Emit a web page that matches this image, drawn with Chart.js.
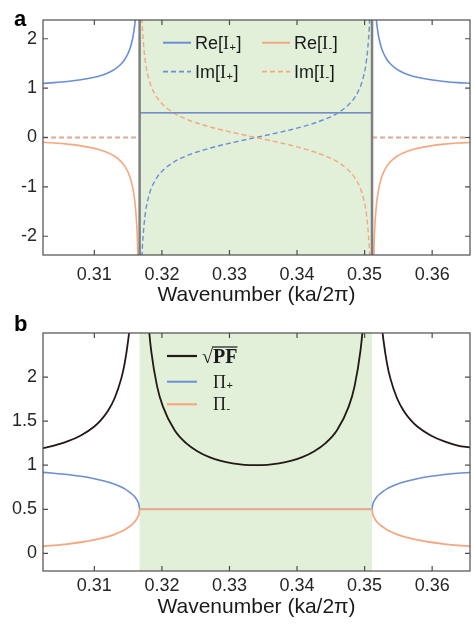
<!DOCTYPE html>
<html>
<head>
<meta charset="utf-8">
<script src="https://cdn.jsdelivr.net/npm/chart.js@4.4.1/dist/chart.umd.min.js"></script>
<style>
  body { margin: 0; background: #fff; width: 474px; height: 624px; position: relative; overflow: hidden; }
  .box { position: absolute; left: 0; width: 474px; }
  #boxA { top: 0; height: 310px; }
  #boxB { top: 310px; height: 314px; }
  .tag { position: absolute; left: 14px; font: bold 22px 'Liberation Sans', Arial, sans-serif; line-height: 22px; color: #000; }
</style>
</head>
<body>
<div class="box" id="boxA"><canvas id="chartA" width="474" height="310" style="width:474px;height:310px"></canvas></div>
<div class="box" id="boxB"><canvas id="chartB" width="474" height="314" style="width:474px;height:314px"></canvas></div>
<div class="tag" style="top:8px">a</div>
<div class="tag" style="top:313px">b</div>
<script>
// ---- data ----
const xTicks = [0.31, 0.32, 0.33, 0.34, 0.35, 0.36];
const yTicksA = [-2, -1, 0, 1, 2];
const yTicksB = [0, 0.5, 1, 1.5, 2];
const bandEdges = [0.3167, 0.3511];   // exceptional points

const labelsA = ['Re[I+]', 'Re[I-]', 'Im[I+]', 'Im[I-]'];
const labelsB = ['√PF', 'Π+', 'Π-'];

// outside the band (left / right)
const xOutL = [0.3024, 0.304, 0.306, 0.308, 0.310, 0.311, 0.312, 0.313, 0.314, 0.3145, 0.315, 0.3153, 0.3156, 0.3158, 0.3160, 0.3162, 0.3164, 0.3166];
const xOutR = [0.3512, 0.3514, 0.3516, 0.3518, 0.3520, 0.3522, 0.3525, 0.3528, 0.3533, 0.3538, 0.3548, 0.3558, 0.3568, 0.3578, 0.3598, 0.3618, 0.3638, 0.3656];
// inside the band
const xIn = [0.31672, 0.31679, 0.31687, 0.31704, 0.31722, 0.31756, 0.31808, 0.31842, 0.31928, 0.32014, 0.32186, 0.32358, 0.3253, 0.32702, 0.32874, 0.33046, 0.33218, 0.3339,
             0.33562, 0.33734, 0.33906, 0.34078, 0.3425, 0.34422, 0.34594, 0.34766, 0.34852, 0.34938, 0.34972, 0.35024, 0.35058, 0.35076, 0.35093, 0.35101, 0.35108];

// panel a
const reIpL = [1.097, 1.111, 1.135, 1.169, 1.220, 1.257, 1.308, 1.380, 1.494, 1.581, 1.706, 1.814, 1.964, 2.106, 2.305, 2.618, 3.215, 5.16];
const reImL = [-0.097, -0.111, -0.135, -0.169, -0.220, -0.257, -0.308, -0.380, -0.494, -0.581, -0.706, -0.814, -0.964, -1.106, -1.305, -1.618, -2.215, -4.16];
const reIpR = [5.16, 3.215, 2.618, 2.305, 2.106, 1.964, 1.814, 1.706, 1.581, 1.494, 1.380, 1.308, 1.257, 1.220, 1.169, 1.135, 1.111, 1.100];
const reImR = [-4.16, -2.215, -1.618, -1.305, -1.106, -0.964, -0.814, -0.706, -0.581, -0.494, -0.380, -0.308, -0.257, -0.220, -0.169, -0.135, -0.111, -0.100];
const reInner = [0.5, 0.5];
const imOuter = [0, 0];
const imIpIn = [-11.17, -4.981, -3.509, -2.462, -1.995, -1.521, -1.174, -1.032, -0.807, -0.667, -0.490, -0.375, -0.289, -0.218, -0.157, -0.102, -0.050, 0,
                0.050, 0.102, 0.157, 0.218, 0.289, 0.375, 0.490, 0.667, 0.807, 1.032, 1.174, 1.521, 1.995, 2.462, 3.509, 4.981, 11.17];
const imImIn = [11.17, 4.981, 3.509, 2.462, 1.995, 1.521, 1.174, 1.032, 0.807, 0.667, 0.490, 0.375, 0.289, 0.218, 0.157, 0.102, 0.050, 0,
                -0.050, -0.102, -0.157, -0.218, -0.289, -0.375, -0.490, -0.667, -0.807, -1.032, -1.174, -1.521, -1.995, -2.462, -3.509, -4.981, -11.17];

// panel b
const pfL = [1.194, 1.223, 1.270, 1.338, 1.440, 1.515, 1.615, 1.760, 1.988, 2.162, 2.413, 2.627, 2.928, 3.212, 3.610, 4.237, 5.430, 9.32];
const pfR = [9.32, 5.430, 4.237, 3.610, 3.212, 2.928, 2.627, 2.413, 2.162, 1.988, 1.760, 1.615, 1.515, 1.440, 1.338, 1.270, 1.223, 1.200];
const pfIn = [22.37, 10.01, 7.089, 5.025, 4.114, 3.203, 2.552, 2.294, 1.898, 1.667, 1.400, 1.250, 1.155, 1.091, 1.048, 1.021, 1.005, 1.000,
              1.005, 1.021, 1.048, 1.091, 1.155, 1.250, 1.400, 1.667, 1.898, 2.294, 2.552, 3.203, 4.114, 5.025, 7.089, 10.01, 22.37];
const piPL = [0.919, 0.909, 0.894, 0.874, 0.847, 0.830, 0.810, 0.784, 0.752, 0.731, 0.707, 0.690, 0.671, 0.656, 0.639, 0.618, 0.592, 0.554];
const piML = [0.081, 0.091, 0.106, 0.126, 0.153, 0.170, 0.190, 0.216, 0.248, 0.269, 0.293, 0.310, 0.329, 0.344, 0.361, 0.382, 0.408, 0.446];
const piPR = [0.554, 0.592, 0.618, 0.639, 0.656, 0.671, 0.690, 0.707, 0.731, 0.752, 0.784, 0.810, 0.830, 0.847, 0.874, 0.894, 0.909, 0.917];
const piMR = [0.446, 0.408, 0.382, 0.361, 0.344, 0.329, 0.310, 0.293, 0.269, 0.248, 0.216, 0.190, 0.170, 0.153, 0.126, 0.106, 0.091, 0.083];
const piInner = [0.5, 0.5];

// ---- helpers ----
const BLUE = '#6b8fd6', ORANGE = '#f5a77f', BLACK = '#231815';
const SANS = "'Liberation Sans', Arial, sans-serif";
const SERIF = "'Liberation Serif', 'Times New Roman', serif";

function pts(xs, ys) {
    return xs.map((x, i) => ({ x: x, y: ys[i] }));
}
function gap(x) {
    return { x: x, y: null };
}
const xEnds = [xOutL[0], bandEdges[0]];
const xEndsR = [bandEdges[1], xOutR[xOutR.length - 1]];

function line(label, data, color, dashed, width, order) {
    return {
        label: label,
        data: data,
        borderColor: color,
        borderWidth: width,
        borderDash: dashed ? [5, 3] : [],
        pointRadius: 0,
        fill: false,
        cubicInterpolationMode: 'monotone',
        order: order
    };
}

const datasetsA = [
    line(labelsA[0], pts(xOutL, reIpL).concat(gap(bandEdges[0]), pts(bandEdges, reInner), gap(bandEdges[1]), pts(xOutR, reIpR)), BLUE, false, 1.6, 0),
    line(labelsA[1], pts(xOutL, reImL).concat(gap(bandEdges[0]), pts(bandEdges, reInner), gap(bandEdges[1]), pts(xOutR, reImR)), ORANGE, false, 1.6, 1),
    line(labelsA[2], pts(xEnds, imOuter).concat(gap(bandEdges[0]), pts(xIn, imIpIn), gap(bandEdges[1]), pts(xEndsR, imOuter)), BLUE, true, 1.4, 3),
    line(labelsA[3], pts(xEnds, imOuter).concat(gap(bandEdges[0]), pts(xIn, imImIn), gap(bandEdges[1]), pts(xEndsR, imOuter)), ORANGE, true, 1.4, 2)
];

const datasetsB = [
    line(labelsB[0], pts(xOutL, pfL).concat(gap(bandEdges[0]), pts(xIn, pfIn), gap(bandEdges[1]), pts(xOutR, pfR)), BLACK, false, 1.8, 0),
    line(labelsB[1], pts(xOutL, piPL).concat(pts(bandEdges, piInner), pts(xOutR, piPR)), BLUE, false, 1.6, 2),
    line(labelsB[2], pts(xOutL, piML).concat(pts(bandEdges, piInner), pts(xOutR, piMR)), ORANGE, false, 1.8, 1)
];

// text with a subscript sign, e.g. Re[I+]
function drawRich(ctx, x, base, parts) {
    parts.forEach(p => {
        ctx.font = p[1];
        ctx.fillText(p[0], x, base + p[2]);
        x += ctx.measureText(p[0]).width + (p[3] || 0);
    });
    return x;
}

function legendSample(ctx, ds, x0, x1, y) {
    ctx.strokeStyle = ds.borderColor;
    ctx.lineWidth = ds.borderWidth + 0.4;
    ctx.setLineDash(ds.borderDash);
    ctx.beginPath();
    ctx.moveTo(x0, y);
    ctx.lineTo(x1, y);
    ctx.stroke();
    ctx.setLineDash([]);
}

function drawLegendA(chart) {
    const ctx = chart.ctx, a = chart.chartArea;
    const cols = [120, 219], rows = [22.7, 51.7];
    chart.data.datasets.forEach((ds, i) => {
        const m = ds.label.match(/^(\w+\[)(I)([+-])(\])$/);
        const lx = a.left + cols[i % 2], ly = a.top + rows[Math.floor(i / 2)];
        legendSample(ctx, ds, lx, lx + 28, ly);
        ctx.fillStyle = '#1a1a1a';
        ctx.textBaseline = 'alphabetic';
        drawRich(ctx, lx + 32, ly + 6.5, [
            [m[1], '18px ' + SANS, 0],
            [m[2], '18px ' + SERIF, 0, 0.5],
            [m[3], '11px ' + SANS, 1.5, 0.5],
            [m[4], '18px ' + SANS, 0]
        ]);
    });
}

function drawLegendB(chart) {
    const ctx = chart.ctx, a = chart.chartArea;
    const rows = [23, 48.7, 71.3];
    chart.data.datasets.forEach((ds, i) => {
        const lx = a.left + 124, ly = a.top + rows[i];
        legendSample(ctx, ds, lx, lx + 30, ly);
        ctx.fillStyle = '#1a1a1a';
        ctx.textBaseline = 'alphabetic';
        if (ds.label.charAt(0) === '√') {
            const tx = lx + 35, base = ly + 7;
            ctx.font = 'bold 20px ' + SERIF;
            ctx.fillText('√', tx, base);
            const rx = tx + ctx.measureText('√').width;
            ctx.fillText(ds.label.slice(1), rx, base);
            const ex = rx + ctx.measureText(ds.label.slice(1)).width;
            ctx.strokeStyle = '#1a1a1a';
            ctx.lineWidth = 1.2;
            ctx.beginPath();
            ctx.moveTo(rx - 1, base - 16);
            ctx.lineTo(ex, base - 16);
            ctx.stroke();
        } else {
            drawRich(ctx, lx + 46, ly + 6, [
                [ds.label.charAt(0), '18px ' + SERIF, 0, 0.5],
                [ds.label.charAt(1), '11px ' + SANS, 1.5]
            ]);
        }
    });
}

const framePlugin = {
    id: 'frame',
    beforeDatasetsDraw(chart) {
        const ctx = chart.ctx, a = chart.chartArea, xs = chart.scales.x;
        const x0 = xs.getPixelForValue(bandEdges[0]);
        const x1 = xs.getPixelForValue(bandEdges[1]);
        ctx.save();
        ctx.fillStyle = '#e2efd9';
        ctx.fillRect(x0, a.top, x1 - x0, a.bottom - a.top);
        ctx.restore();
    },
    afterDatasetsDraw(chart, args, opts) {
        const ctx = chart.ctx, a = chart.chartArea;
        const xs = chart.scales.x, ys = chart.scales.y;
        ctx.save();
        if (opts.edges) {
            ctx.strokeStyle = '#7f7f7f';
            ctx.lineWidth = 2.5;
            bandEdges.forEach(v => {
                const p = xs.getPixelForValue(v);
                ctx.beginPath();
                ctx.moveTo(p, a.top);
                ctx.lineTo(p, a.bottom);
                ctx.stroke();
            });
        }
        ctx.strokeStyle = '#4d4d4d';
        ctx.lineWidth = 1.2;
        ctx.strokeRect(a.left, a.top, a.right - a.left, a.bottom - a.top);
        ctx.beginPath();
        xs.ticks.forEach(t => {
            const p = xs.getPixelForValue(t.value);
            ctx.moveTo(p, a.bottom); ctx.lineTo(p, a.bottom - 5);
            ctx.moveTo(p, a.top); ctx.lineTo(p, a.top + 5);
        });
        ys.ticks.forEach(t => {
            const p = ys.getPixelForValue(t.value);
            ctx.moveTo(a.left, p); ctx.lineTo(a.left + 5, p);
            ctx.moveTo(a.right, p); ctx.lineTo(a.right - 5, p);
        });
        ctx.stroke();
        if (opts.legend === 'a') drawLegendA(chart);
        else drawLegendB(chart);
        ctx.restore();
    }
};

function makeChart(id, datasets, yMin, yMax, yTicks, padTop, xHeight, tickPad, titlePad, key, edges) {
    return new Chart(document.getElementById(id).getContext('2d'), {
        type: 'line',
        data: { datasets: datasets },
        plugins: [framePlugin],
        options: {
            responsive: false,
            animation: false,
            events: [],
            layout: { padding: { top: padTop, right: 4, left: 0, bottom: 0 } },
            plugins: {
                legend: { display: false },
                tooltip: { enabled: false },
                frame: { legend: key, edges: edges }
            },
            scales: {
                x: {
                    type: 'linear',
                    min: 0.3024,
                    max: 0.3656,
                    afterBuildTicks: s => { s.ticks = xTicks.map(v => ({ value: v })); },
                    afterFit: s => { s.height = xHeight; },
                    grid: { display: false, drawTicks: false },
                    border: { display: false },
                    ticks: {
                        maxRotation: 0,
                        autoSkip: false,
                        padding: tickPad,
                        color: '#262626',
                        font: { family: SANS, size: 18 },
                        callback: v => v.toFixed(2)
                    },
                    title: {
                        display: true,
                        text: 'Wavenumber (ka/2π)',
                        color: '#1a1a1a',
                        font: { family: SANS, size: 21 },
                        padding: { top: 0, bottom: titlePad }
                    }
                },
                y: {
                    min: yMin,
                    max: yMax,
                    afterBuildTicks: s => { s.ticks = yTicks.map(v => ({ value: v })); },
                    afterFit: s => { s.width = 43; },
                    grid: { display: false, drawTicks: false },
                    border: { display: false },
                    ticks: {
                        padding: 6,
                        color: '#262626',
                        font: { family: SANS, size: 18 },
                        callback: v => String(v)
                    }
                }
            }
        }
    });
}

makeChart('chartA', datasetsA, -2.38, 2.38, yTicksA, 20, 55, 9, 2, 'a', true);
makeChart('chartB', datasetsB, -0.2, 2.5, yTicksB, 23, 53, 4, 4, 'b', false);
</script>
</body>
</html>
